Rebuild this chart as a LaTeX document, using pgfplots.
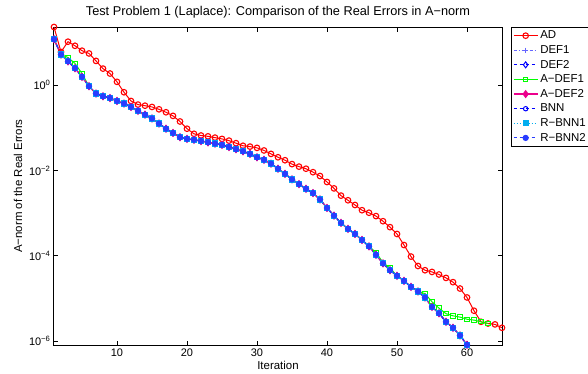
\documentclass[border=0pt]{standalone}
\usepackage{fontspec}
\setmainfont{Liberation Sans}
\usepackage{pgfplots}
\pgfplotsset{compat=1.18}
\usepackage{pgfplotstable}

\pgfplotstableread{
x y
1 23.2
2 6.03
3 10.5
4 8.41
5 6.46
6 5.56
7 3.72
8 2.45
9 1.88
10 1.20
11 0.684
12 0.427
13 0.351
14 0.331
15 0.309
16 0.272
17 0.232
18 0.191
19 0.141
20 0.0955
21 0.0724
22 0.0661
23 0.0631
24 0.0589
25 0.0550
26 0.0501
27 0.0437
28 0.0380
29 0.0363
30 0.0339
31 0.0295
32 0.0245
33 0.0204
34 0.0174
35 0.0141
36 0.0123
37 0.0110
38 0.00912
39 0.00741
40 0.00537
41 0.00380
42 0.00257
43 0.00200
44 0.00155
45 0.00117
46 0.00102
47 8.51e-4
48 6.46e-4
49 4.68e-4
50 3.24e-4
51 1.78e-4
52 9.55e-5
53 5.75e-5
54 4.57e-5
55 4.17e-5
56 3.63e-5
57 3.02e-5
58 2.40e-5
59 1.70e-5
60 1.05e-5
61 5.13e-6
62 2.82e-6
63 2.57e-6
64 2.45e-6
65 2.04e-6
}\tabAD

\pgfplotstableread{
x y
1 12.0
2 5.25
3 3.63
4 2.51
5 1.57
6 0.946
7 0.638
8 0.550
9 0.501
10 0.427
11 0.372
12 0.309
13 0.251
14 0.204
15 0.166
16 0.126
17 0.0955
18 0.0759
19 0.0603
20 0.0550
21 0.0525
22 0.0490
23 0.0457
24 0.0427
25 0.0398
26 0.0355
27 0.0316
28 0.0282
29 0.0245
30 0.0204
31 0.0178
32 0.0145
33 0.0110
34 0.00832
35 0.00617
36 0.00479
37 0.00372
38 0.00295
39 0.00209
40 0.00132
41 8.71e-4
42 5.89e-4
43 4.27e-4
44 3.24e-4
45 2.34e-4
46 1.66e-4
47 1.05e-4
48 6.61e-5
49 4.57e-5
50 3.39e-5
51 2.57e-5
52 1.86e-5
53 1.45e-5
54 1.05e-5
55 6.31e-6
56 4.47e-6
57 2.82e-6
58 2.04e-6
59 1.35e-6
60 8.13e-7
}\tabDEF

\pgfplotstableread{
x y
1 12.0
2 5.25
3 4.47
4 3.24
5 1.88
6 0.946
7 0.638
8 0.550
9 0.501
10 0.427
11 0.372
12 0.309
13 0.251
14 0.204
15 0.166
16 0.126
17 0.0955
18 0.0759
19 0.0603
20 0.0550
21 0.0525
22 0.0490
23 0.0457
24 0.0427
25 0.0398
26 0.0355
27 0.0316
28 0.0282
29 0.0245
30 0.0204
31 0.0178
32 0.0145
33 0.0110
34 0.00832
35 0.00617
36 0.00479
37 0.00372
38 0.00295
39 0.00209
40 0.00132
41 8.71e-4
42 5.89e-4
43 4.27e-4
44 3.24e-4
45 2.34e-4
46 1.66e-4
47 1.20e-4
48 6.92e-5
49 5.13e-5
50 3.39e-5
51 2.57e-5
52 1.86e-5
53 1.45e-5
54 1.29e-5
55 8.32e-6
56 5.89e-6
57 4.37e-6
58 3.89e-6
59 3.63e-6
60 3.24e-6
61 3.09e-6
62 2.82e-6
63 2.57e-6
}\tabADEFone

\definecolor{def1col}{RGB}{102,102,255}
\definecolor{rbnn2col}{RGB}{40,60,255}
\definecolor{mgreen}{RGB}{0,255,0}

\begin{document}
\begin{tikzpicture}
\useasboundingbox (-54bp,-29bp) rectangle (534bp,345bp);
\begin{axis}[
  at={(0,0)}, anchor=south west,
  scale only axis, width=448bp, height=318bp,
  xmin=1, xmax=65,
  ymode=log, ymin=8.05e-7, ymax=23.2,
  xtick={10,20,...,60},
  ytick={1e-6,1e-4,1e-2,1},
  yticklabels={10\textsuperscript{−6},10\textsuperscript{−4},10\textsuperscript{−2},10\textsuperscript{0}},
  minor tick num=0, minor ytick={},
  tick align=inside, tick pos=both,
  major tick length=4.5bp,
  axis line style={line width=1bp},
  every tick/.style={black, line width=0.6bp},
  ticklabel style={font=\fontsize{11}{12}\selectfont},
  /pgf/number format/assume math mode=true,
  clip=false,
  title={Test Problem 1 (Laplace): Comparison of the Real Errors in A−norm},
  every axis title/.style={at={(axis description cs:0.5,1)}, yshift=15bp, anchor=center, font=\fontsize{12.8}{14}\selectfont},
  xlabel={Iteration},
  every axis x label/.style={at={(axis description cs:0.5,0)}, yshift=-20bp, anchor=center, font=\fontsize{11.5}{13}\selectfont},
  ylabel={A−norm of the Real Errors},
  every axis y label/.style={at={(axis description cs:0,0.5)}, xshift=-36bp, rotate=90, anchor=center, font=\fontsize{11.5}{13}\selectfont},
  legend style={at={(rel axis cs:1.0201,1)}, anchor=north west, draw=black, line width=1bp,
     font=\fontsize{11.5}{13}\selectfont, inner sep=1.5bp, row sep=1.2bp, legend cell align=left},
  legend image code/.code={\draw[mark repeat=2,mark phase=2] plot coordinates {(0cm,0cm) (0.42cm,0cm) (0.84cm,0cm)};},
  every axis plot/.append style={line width=1bp},
]
\addplot[red, mark=o, mark size=2.8bp, mark options={solid, line width=1.1bp}] table[x=x,y=y] {\tabAD};
\addlegendentry{AD}
\addplot[def1col, dash dot, mark=+, mark size=2.5bp, mark options={solid}] table[x=x,y=y] {\tabDEF};
\addlegendentry{DEF1}
\addplot[blue, dashed, mark=diamond, mark size=3bp, mark options={solid}] table[x=x,y=y] {\tabDEF};
\addlegendentry{DEF2}
\addplot[mgreen, mark=square, mark size=2.2bp, mark options={solid}] table[x=x,y=y] {\tabADEFone};
\addlegendentry{A−DEF1}
\addplot[magenta, line width=1.5bp, mark=diamond*, mark size=3bp, mark options={solid}] table[x=x,y=y] {\tabDEF};
\addlegendentry{A−DEF2}
\addplot[blue, dashed, mark=o, mark size=2.2bp, mark options={solid}] table[x=x,y=y] {\tabDEF};
\addlegendentry{BNN}
\addplot[cyan, dotted, mark=square*, mark size=2.6bp, mark options={solid}] table[x=x,y=y] {\tabDEF};
\addlegendentry{R−BNN1}
\addplot[rbnn2col, dashed, mark=*, mark size=2.6bp, mark options={solid}] table[x=x,y=y] {\tabDEF};
\addlegendentry{R−BNN2}
\end{axis}
\end{tikzpicture}
\end{document}
